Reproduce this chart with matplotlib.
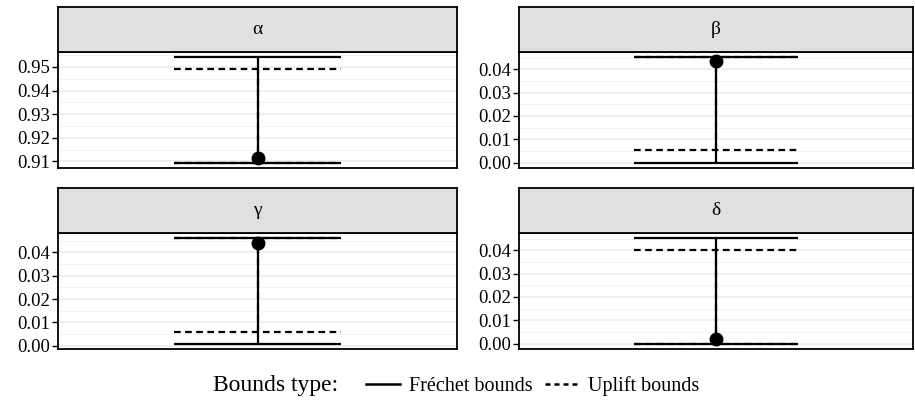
import matplotlib
matplotlib.use("Agg")
import matplotlib.pyplot as plt
from matplotlib.ticker import MultipleLocator, AutoMinorLocator, FormatStrFormatter
from matplotlib.lines import Line2D

plt.rcParams['font.family'] = ['Liberation Serif', 'DejaVu Serif']

# values
params = ["α", "β", "γ", "δ"]
frechet_low = [0.9094, 0.0, 0.0009, 0.0]
frechet_high = [0.9541, 0.0451, 0.0460, 0.0451]
uplift_low = [0.9094, 0.0053, 0.0061, 0.0]
uplift_high = [0.9490, 0.0451, 0.0460, 0.0399]
estimate = [0.9114, 0.0433, 0.0440, 0.0020]

W, H = 915, 404
fig = plt.figure(figsize=(W / 100, H / 100), dpi=100)

# panel boxes in pixels: left, right, strip top, panel top, panel bottom
boxes = [(58, 457, 7, 52, 168), (519, 913, 7, 52, 168),
         (58, 457, 188, 233, 349), (519, 913, 188, 233, 349)]


def to_fig(l, r, t, b):
    return [l / W, 1 - b / H, (r - l) / W, (b - t) / H]


for i, name in enumerate(params):
    l, r, st, pt, pb = boxes[i]
    ax = fig.add_axes(to_fig(l, r, pt, pb))
    x = 1
    hw = 0.25
    ax.hlines([frechet_low[i], frechet_high[i]], x - hw, x + hw, color="black", lw=1.6, zorder=3)
    ax.vlines(x, frechet_low[i], frechet_high[i], color="black", lw=1.6, zorder=3)
    ax.hlines([uplift_low[i], uplift_high[i]], x - hw, x + hw, color="black", lw=1.6,
              linestyles=(0, (3, 2)), zorder=4)
    ax.vlines(x, uplift_low[i], uplift_high[i], color="black", lw=1.6,
              linestyles=(0, (3, 2)), zorder=4)
    ax.plot([x], [estimate[i]], "o", color="black", ms=9, zorder=5)

    lo = min(frechet_low[i], uplift_low[i])
    hi = max(frechet_high[i], uplift_high[i])
    pad = (hi - lo) * 0.05
    ax.set_ylim(lo - pad, hi + pad)
    ax.set_xlim(0.4, 1.6)
    ax.yaxis.set_major_locator(MultipleLocator(0.01))
    ax.yaxis.set_minor_locator(AutoMinorLocator(2))
    ax.yaxis.set_major_formatter(FormatStrFormatter("%.2f"))
    ax.set_xticks([])
    ax.grid(axis="y", which="major", color="#EBEBEB", lw=1.1)
    ax.grid(axis="y", which="minor", color="#F2F2F2", lw=0.6)
    ax.set_axisbelow(True)
    ax.tick_params(axis="y", which="major", labelsize=13.5, length=4.5, width=1, color="black", pad=1.5)
    ax.tick_params(axis="y", which="minor", length=0)
    for s in ax.spines.values():
        s.set_linewidth(1.3)
        s.set_color("black")

    # facet strip
    sax = fig.add_axes(to_fig(l, r, st, pt))
    sax.set_facecolor("#E0E0E0")
    sax.set_xticks([])
    sax.set_yticks([])
    for s in sax.spines.values():
        s.set_linewidth(1.3)
        s.set_color("black")
    sax.text(0.5, 0.5, name, ha="center", va="center", fontsize=14, transform=sax.transAxes)

fig.text(213 / W, 1 - 385 / H, "Bounds type:", fontsize=17, ha="left", va="center")
handles = [Line2D([], [], color="black", lw=1.8),
           Line2D([], [], color="black", lw=1.8, linestyle=(0, (2, 1.6)))]
fig.legend(handles, ["Fréchet bounds", "Uplift bounds"], ncol=2, frameon=False,
           loc="center left", bbox_to_anchor=(366 / W, 1 - 386 / H), fontsize=14.5,
           handlelength=1.7, handletextpad=0.45, columnspacing=0.6,
           borderpad=0, borderaxespad=0)

fig.savefig("out.png", dpi=100)
